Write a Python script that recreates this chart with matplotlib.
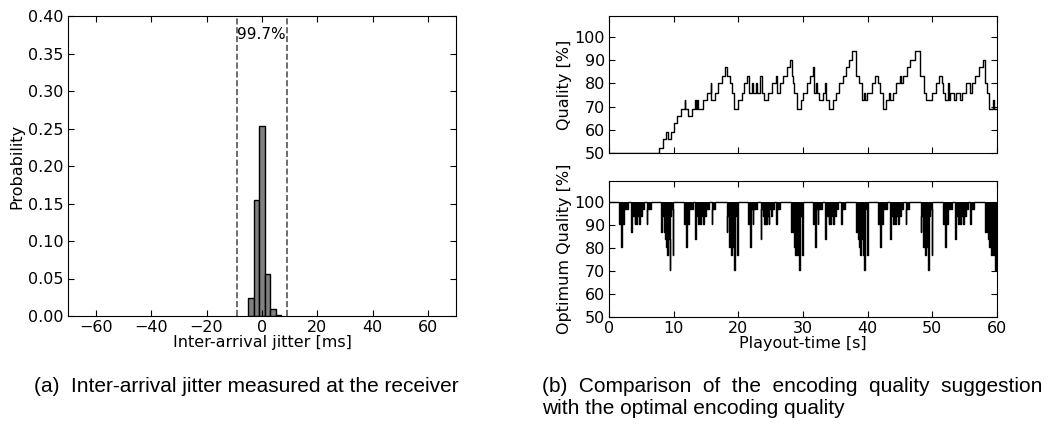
import matplotlib
matplotlib.use("Agg")
import matplotlib.pyplot as plt

plt.rcParams['font.family'] = ['DejaVu Sans']
plt.rcParams['font.size'] = 11.5
plt.rcParams['axes.labelsize'] = 11.5
plt.rcParams['xtick.direction'] = 'in'
plt.rcParams['ytick.direction'] = 'in'
plt.rcParams['xtick.top'] = True
plt.rcParams['ytick.right'] = True
plt.rcParams['xtick.major.size'] = 4
plt.rcParams['ytick.major.size'] = 4
plt.rcParams['xtick.major.pad'] = 3
plt.rcParams['ytick.major.pad'] = 3

# (a) jitter histogram: bin left edges [ms] and probabilities
jit_left = [-5, -3, -1, 1, 3, 5]
jit_prob = [0.024, 0.155, 0.253, 0.056, 0.010, 0.001]
jit_width = 2.0
bound_lo, bound_hi = -9.1, 8.9      # 99.7 % interval
bound_text = "99.7%"

# (b) top: suggested encoding quality, step breakpoints [s] and levels [%]
q_t = [0.0, 7.70, 8.36, 8.88, 9.14, 9.66, 10.02, 10.50, 11.10, 11.70,
       11.80, 12.20, 12.85, 13.27, 13.43, 13.63, 13.84, 14.56, 15.18, 15.70,
       15.80, 16.40, 16.88, 17.40, 17.92, 18.28, 18.70, 18.95, 19.33, 19.98,
       20.50, 20.91, 21.38, 21.58, 22.05, 22.20, 22.80, 22.95, 23.34, 23.60,
       24.00, 24.63, 25.14, 25.82, 26.02, 26.43, 26.95, 27.47, 27.98, 28.30,
       28.45, 28.60, 29.02, 29.64, 30.05, 30.57, 31.08, 31.60, 31.75, 32.00,
       32.10, 32.40, 33.14, 33.35, 33.50, 33.97, 34.70, 35.10, 35.62, 36.14,
       36.65, 37.17, 37.59, 38.20, 38.72, 39.08, 39.44, 39.55, 39.96, 40.63,
       41.15, 41.66, 41.92, 42.34, 42.85, 43.37, 43.47, 43.89, 44.40, 45.02,
       45.18, 45.54, 46.06, 46.57, 47.35, 48.12, 48.64, 49.00, 49.93, 50.60,
       50.96, 51.48, 51.70, 52.00, 52.35, 52.51, 52.77, 53.28, 53.70, 54.32,
       54.57, 55.25, 55.86, 56.12, 56.64, 57.15, 57.82, 58.18, 58.45, 58.70,
       59.37, 59.58, 60.0]
q_val = [50, 52, 56, 59, 56, 59, 63, 66, 69, 73,
         69, 66, 69, 73, 69, 73, 69, 73, 76, 80,
         73, 76, 80, 83, 87, 83, 80, 76, 69, 73,
         76, 80, 83, 76, 80, 76, 80, 76, 83, 76,
         73, 76, 80, 83, 76, 80, 83, 87, 90, 83,
         80, 76, 69, 73, 76, 80, 83, 87, 76, 80,
         76, 73, 76, 80, 73, 69, 73, 76, 80, 83,
         87, 90, 94, 83, 80, 73, 76, 73, 76, 80,
         83, 80, 76, 69, 73, 76, 73, 76, 80, 83,
         80, 83, 87, 90, 94, 83, 76, 73, 76, 80,
         83, 80, 76, 73, 80, 73, 76, 73, 76, 73,
         76, 80, 76, 80, 83, 87, 90, 80, 76, 69,
         73, 69, 69]

# (b) bottom: optimum quality, step breakpoints [s] and levels [%]
opt_t = [0.0,
         1.55, 1.65, 1.85, 1.95, 2.20, 2.28, 2.95, 3.45, 3.55, 3.75, 3.95, 4.05, 4.20, 4.40, 4.55, 4.70, 4.80, 5.00,
         5.15, 5.45, 5.85, 5.93, 6.45, 8.10, 8.20, 8.45, 8.60, 8.80, 9.00, 9.10, 9.25, 9.40, 9.48, 9.65, 9.85, 9.95,
         11.60, 11.70, 11.90, 12.00, 12.25, 12.33, 13.00, 13.30, 13.40, 13.60, 13.80, 13.90, 14.05, 14.25, 14.40, 14.55,
         14.65, 14.85, 15.00, 15.40, 15.88, 15.96, 16.45, 18.20, 18.30, 18.50, 18.70, 18.90, 19.00, 19.20, 19.35, 19.43,
         19.60, 19.85, 19.95,
         21.55, 21.65, 21.85, 21.95, 22.20, 22.28, 22.95, 23.45, 23.55, 23.75, 23.95, 24.05, 24.20, 24.40, 24.55, 24.70,
         24.80, 25.00, 25.15, 25.45, 25.85, 25.93, 26.45, 28.15, 28.25, 28.45, 28.60, 28.80, 29.00, 29.15, 29.30, 29.42,
         29.50, 29.65, 29.85, 29.95,
         31.60, 31.70, 31.90, 32.00, 32.25, 32.33, 33.00, 33.45, 33.55, 33.75, 33.95, 34.05, 34.20, 34.40, 34.55, 34.70,
         34.80, 35.00, 35.15, 35.45, 35.90, 35.98, 36.45, 38.20, 38.30, 38.50, 38.65, 38.85, 39.00, 39.20, 39.35, 39.45,
         39.53, 39.65, 39.90, 40.00,
         41.60, 41.70, 41.95, 42.05, 42.25, 42.33, 43.00, 43.45, 43.55, 43.75, 43.95, 44.05, 44.25, 44.45, 44.60, 44.75,
         44.85, 45.05, 45.20, 45.45, 45.90, 45.98, 46.45, 48.20, 48.30, 48.50, 48.70, 48.90, 49.05, 49.25, 49.40, 49.48,
         49.65, 49.90, 50.00,
         51.65, 51.75, 51.95, 52.05, 52.30, 52.38, 53.00, 53.50, 53.60, 53.80, 54.00, 54.10, 54.25, 54.45, 54.60, 54.75,
         54.85, 55.05, 55.20, 55.50, 55.90, 55.98, 56.45, 58.20, 58.30, 58.50, 58.65, 58.80, 59.00, 59.15, 59.30, 59.45,
         59.55, 59.65, 60.0]
opt_val = [100,
           90.5, 97, 80.5, 97, 90.5, 97, 100, 87, 97, 94, 90.5, 94, 90.5, 97, 94, 90.5, 97, 94,
           97, 100, 90.5, 97, 100, 87, 94, 87, 84, 80.5, 77, 90.5, 84, 70.5, 94, 97, 77, 100,
           90.5, 97, 80.5, 97, 90.5, 97, 100, 84, 97, 94, 90.5, 94, 90.5, 97, 94, 90.5,
           97, 94, 97, 100, 90.5, 97, 100, 87, 94, 80.5, 84, 77, 80.5, 90.5, 70.5, 94,
           97, 77, 100,
           90.5, 97, 80.5, 97, 90.5, 97, 100, 84, 97, 94, 90.5, 94, 90.5, 97, 94, 90.5,
           97, 94, 97, 100, 90.5, 97, 100, 87, 94, 87, 80.5, 77, 84, 90.5, 77, 70.5,
           94, 97, 77, 100,
           90.5, 97, 80.5, 97, 90.5, 97, 100, 84, 97, 94, 90.5, 94, 90.5, 97, 94, 90.5,
           97, 94, 97, 100, 90.5, 97, 100, 87, 94, 84, 80.5, 77, 84, 90.5, 77, 70.5,
           94, 97, 77, 100,
           90.5, 97, 80.5, 97, 90.5, 97, 100, 84, 97, 94, 90.5, 94, 90.5, 97, 94, 90.5,
           97, 94, 97, 100, 90.5, 97, 100, 87, 94, 80.5, 84, 77, 80.5, 90.5, 70.5, 94,
           97, 77, 100,
           90.5, 97, 80.5, 97, 90.5, 97, 100, 84, 97, 94, 90.5, 94, 90.5, 97, 94, 90.5,
           97, 94, 97, 100, 90.5, 97, 100, 87, 94, 87, 84, 80.5, 77, 90.5, 84, 77,
           94, 70.5, 70.5]

caption_a = "(a)  Inter-arrival jitter measured at the receiver"
caption_b1 = "(b)  Comparison  of  the  encoding  quality  suggestion"
caption_b2 = "with the optimal encoding quality"

W, H = 1057, 426
fig = plt.figure(figsize=(W / 100, H / 100), dpi=100)

def box(l, t, r, b):   # pixel box -> figure fractions
    return [l / W, 1 - b / H, (r - l) / W, (b - t) / H]

# --- (a) histogram
ax1 = fig.add_axes(box(68, 16, 456, 316))
ax1.bar(jit_left, jit_prob, width=jit_width, align='edge',
        color='#808080', edgecolor='black', linewidth=1)
ax1.axvline(bound_lo, color='#555555', ls='--', lw=1.2)
ax1.axvline(bound_hi, color='#555555', ls='--', lw=1.2)
ax1.text((bound_lo + bound_hi) / 2, 0.376, bound_text, ha='center', va='center', fontsize=11)
ax1.set_xlim(-70, 70)
ax1.set_ylim(0, 0.40)
ax1.set_xticks([-60, -40, -20, 0, 20, 40, 60])
ax1.set_yticks([0.0, 0.05, 0.10, 0.15, 0.20, 0.25, 0.30, 0.35, 0.40])
ax1.yaxis.set_major_formatter(matplotlib.ticker.FormatStrFormatter('%.2f'))
ax1.set_xlabel("Inter-arrival jitter [ms]", labelpad=0)
ax1.set_ylabel("Probability", labelpad=3)

# --- (b) top: quality suggestion
ax2 = fig.add_axes(box(609, 16, 997, 153))
ax2.step(q_t, q_val, where='post', color='black', lw=1)
ax2.set_xlim(0, 60)
ax2.set_ylim(50, 109)
ax2.set_xticks([0, 10, 20, 30, 40, 50, 60])
ax2.set_xticklabels([])
ax2.set_yticks([50, 60, 70, 80, 90, 100])
ax2.set_ylabel("Quality [%]", labelpad=2)

# --- (b) bottom: optimum quality
ax3 = fig.add_axes(box(609, 181, 997, 317))
ax3.fill_between(opt_t, opt_val, 100, step='post', color='black', lw=0)
ax3.step(opt_t, opt_val, where='post', color='black', lw=1)
ax3.set_xlim(0, 60)
ax3.set_ylim(50, 109)
ax3.set_xticks([0, 10, 20, 30, 40, 50, 60])
ax3.set_yticks([50, 60, 70, 80, 90, 100])
ax3.set_xlabel("Playout-time [s]", labelpad=0)
ax3.set_ylabel("Optimum Quality [%]", labelpad=2)

# captions
fig.text(34 / W, 1 - 386 / H, caption_a, fontsize=15, family=['Liberation Sans'], va='center')
fig.text(542 / W, 1 - 386 / H, caption_b1, fontsize=15, family=['Liberation Sans'], va='center')
fig.text(542 / W, 1 - 409 / H, caption_b2, fontsize=15, family=['Liberation Sans'], va='center')

fig.savefig("out.png", dpi=100)
